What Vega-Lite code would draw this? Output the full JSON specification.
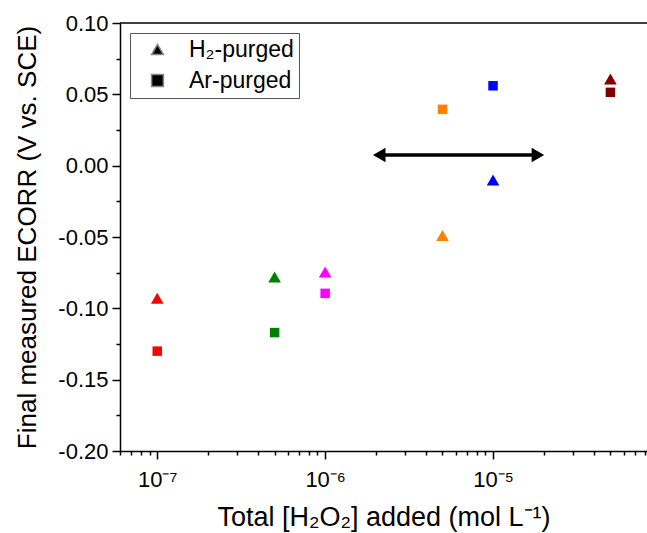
{
  "$schema": "https://vega.github.io/schema/vega-lite/v6.json",
  "width": 527,
  "height": 428,
  "autosize": {"type": "none"},
  "padding": {"left": 120, "top": 23, "right": 0, "bottom": 82},
  "background": "white",
  "config": {
    "view": {"stroke": null},
    "font": "Liberation Sans",
    "axis": {
      "domainColor": "black",
      "domainWidth": 1.5,
      "tickColor": "black",
      "tickWidth": 1.5,
      "labelColor": "black",
      "labelFont": "Liberation Sans",
      "labelFontSize": 22,
      "titleFont": "Liberation Sans",
      "titleFontSize": 27,
      "titleFontWeight": "normal",
      "titleColor": "black",
      "grid": false
    }
  },
  "datasets": {
    "points": [
      {"conc": 1e-7, "ecorr": -0.093, "gas": "H₂-purged"},
      {"conc": 1e-7, "ecorr": -0.130, "gas": "Ar-purged"},
      {"conc": 5e-7, "ecorr": -0.078, "gas": "H₂-purged"},
      {"conc": 5e-7, "ecorr": -0.117, "gas": "Ar-purged"},
      {"conc": 1e-6, "ecorr": -0.0745, "gas": "H₂-purged"},
      {"conc": 1e-6, "ecorr": -0.0895, "gas": "Ar-purged"},
      {"conc": 5e-6, "ecorr": -0.049, "gas": "H₂-purged"},
      {"conc": 5e-6, "ecorr": 0.0395, "gas": "Ar-purged"},
      {"conc": 1e-5, "ecorr": -0.010, "gas": "H₂-purged"},
      {"conc": 1e-5, "ecorr": 0.056, "gas": "Ar-purged"},
      {"conc": 5e-5, "ecorr": 0.0607, "gas": "H₂-purged"},
      {"conc": 5e-5, "ecorr": 0.0514, "gas": "Ar-purged"}
    ],
    "arrow": [{"from": 2.1e-6, "to": 1.85e-5, "level": 0.0075}],
    "headLeft": [{"conc": 2.1e-6, "level": 0.0075}],
    "headRight": [{"conc": 1.85e-5, "level": 0.0075}]
  },
  "layer": [
    {
      "data": {"name": "points"},
      "transform": [{"filter": "datum.gas == 'H₂-purged'"}],
      "mark": {"type": "point", "filled": true, "opacity": 1, "size": 160},
      "encoding": {
        "x": {
          "field": "conc",
          "type": "quantitative",
          "scale": {"type": "log", "domain": [6e-8, 8.26e-5], "nice": false},
          "axis": {
            "orient": "bottom",
            "title": "Total [H₂O₂] added (mol L⁻¹)",
            "values": [1e-7, 1e-6, 1e-5],
            "labelExpr": "datum.value < 5e-7 ? '10⁻⁷' : datum.value < 5e-6 ? '10⁻⁶' : '10⁻⁵'",
            "tickSize": 8,
            "labelPadding": 10,
            "titlePadding": 14
          }
        },
        "y": {
          "field": "ecorr",
          "type": "quantitative",
          "scale": {"domain": [-0.2, 0.1], "nice": false, "zero": false},
          "axis": {
            "orient": "left",
            "title": "Final measured ECORR (V vs. SCE)",
            "titleFontSize": 26,
            "values": [-0.2, -0.15, -0.1, -0.05, 0, 0.05, 0.1],
            "format": ".2f",
            "labelExpr": "replace(datum.label, '−', '-')",
            "tickSize": 8,
            "labelPadding": 4,
            "titlePadding": 17
          }
        },
        "color": {
          "field": "conc",
          "type": "nominal",
          "scale": {"domain": [1e-7, 5e-7, 1e-6, 5e-6, 1e-5, 5e-5], "range": ["#ff0000", "#008000", "#ff00ff", "#ff8000", "#0000ff", "#800000"]},
          "legend": null
        },
        "shape": {
          "field": "gas",
          "type": "nominal",
          "scale": {"domain": ["H₂-purged", "Ar-purged"], "range": ["triangle-up", "square"]},
          "legend": {
            "title": null,
            "orient": "none",
            "legendX": 10,
            "legendY": 10,
            "labelFontSize": 23,
            "labelColor": "black",
            "symbolSize": 140,
            "symbolFillColor": "black",
            "strokeColor": "#555555",
            "padding": 5,
            "symbolOffset": 11,
            "labelOffset": 20,
            "rowPadding": 7
          }
        }
      }
    },
    {
      "data": {"name": "points"},
      "transform": [{"filter": "datum.gas == 'Ar-purged'"}],
      "mark": {"type": "point", "filled": true, "opacity": 1, "size": 90, "shape": "square"},
      "encoding": {
        "x": {"field": "conc", "type": "quantitative", "scale": {"type": "log", "domain": [6e-8, 8.26e-5], "nice": false}, "axis": null},
        "y": {"field": "ecorr", "type": "quantitative", "scale": {"domain": [-0.2, 0.1], "nice": false, "zero": false}, "axis": null},
        "color": {
          "field": "conc",
          "type": "nominal",
          "scale": {"domain": [1e-7, 5e-7, 1e-6, 5e-6, 1e-5, 5e-5], "range": ["#ff0000", "#008000", "#ff00ff", "#ff8000", "#0000ff", "#800000"]},
          "legend": null
        }
      }
    },
    {
      "data": {"name": "points"},
      "mark": {"type": "point", "opacity": 0},
      "encoding": {
        "x": {
          "field": "conc",
          "type": "quantitative",
          "scale": {"type": "log", "domain": [6e-8, 8.26e-5], "nice": false},
          "axis": {
            "orient": "bottom",
            "title": null,
            "values": [6e-8, 7e-8, 8e-8, 9e-8, 2e-7, 3e-7, 4e-7, 5e-7, 6e-7, 7e-7, 8e-7, 9e-7, 2e-6, 3e-6, 4e-6, 5e-6, 6e-6, 7e-6, 8e-6, 9e-6, 2e-5, 3e-5, 4e-5, 5e-5, 6e-5, 7e-5, 8e-5],
            "labels": false,
            "domain": false,
            "tickSize": 4
          }
        },
        "y": {
          "field": "ecorr",
          "type": "quantitative",
          "scale": {"domain": [-0.2, 0.1], "nice": false, "zero": false},
          "axis": {
            "orient": "left",
            "title": null,
            "values": [-0.175, -0.125, -0.075, -0.025, 0.025, 0.075],
            "labels": false,
            "domain": false,
            "tickSize": 4
          }
        }
      }
    },
    {
      "data": {"name": "arrow"},
      "mark": {"type": "rule", "color": "black", "strokeWidth": 3.5},
      "encoding": {
        "x": {"field": "from", "type": "quantitative", "scale": {"type": "log", "domain": [6e-8, 8.26e-5], "nice": false}, "axis": null},
        "x2": {"field": "to"},
        "y": {"field": "level", "type": "quantitative", "scale": {"domain": [-0.2, 0.1], "nice": false, "zero": false}, "axis": null}
      }
    },
    {
      "data": {"name": "headLeft"},
      "mark": {"type": "point", "filled": true, "color": "black", "opacity": 1, "size": 210, "shape": "triangle-left"},
      "encoding": {
        "x": {"field": "conc", "type": "quantitative", "scale": {"type": "log", "domain": [6e-8, 8.26e-5], "nice": false}, "axis": null},
        "y": {"field": "level", "type": "quantitative", "scale": {"domain": [-0.2, 0.1], "nice": false, "zero": false}, "axis": null}
      }
    },
    {
      "data": {"name": "headRight"},
      "mark": {"type": "point", "filled": true, "color": "black", "opacity": 1, "size": 210, "shape": "triangle-right"},
      "encoding": {
        "x": {"field": "conc", "type": "quantitative", "scale": {"type": "log", "domain": [6e-8, 8.26e-5], "nice": false}, "axis": null},
        "y": {"field": "level", "type": "quantitative", "scale": {"domain": [-0.2, 0.1], "nice": false, "zero": false}, "axis": null}
      }
    },
    {
      "data": {"values": [{"top": 0.1}]},
      "mark": {"type": "rule", "color": "black", "strokeWidth": 1.5},
      "encoding": {
        "y": {"field": "top", "type": "quantitative", "scale": {"domain": [-0.2, 0.1], "nice": false, "zero": false}, "axis": null}
      }
    }
  ],
  "resolve": {"axis": {"x": "independent", "y": "independent"}}
}
